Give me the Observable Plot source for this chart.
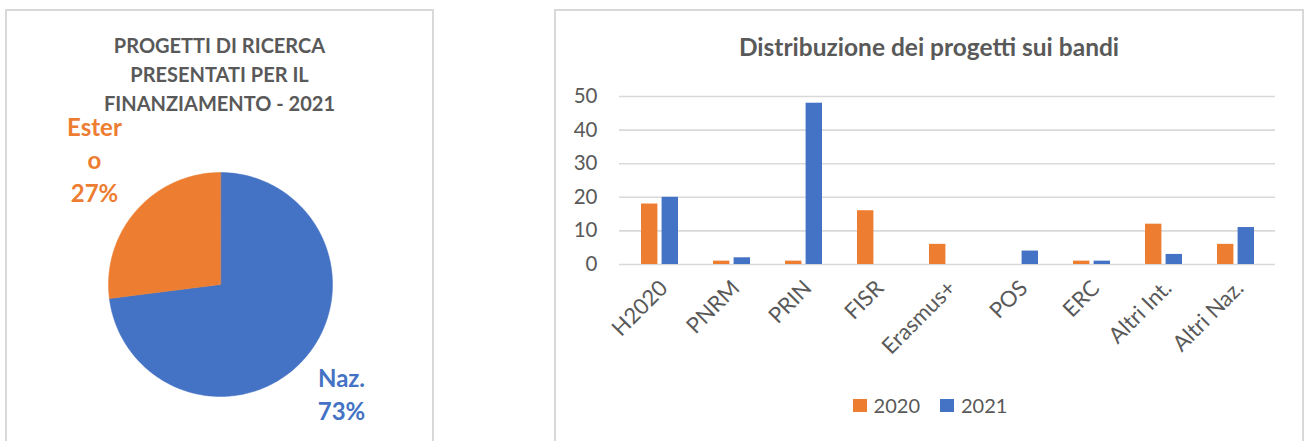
<!DOCTYPE html>
<html>
<head>
<meta charset="utf-8">
<script src="https://cdn.jsdelivr.net/npm/d3@7"></script>
<script src="https://cdn.jsdelivr.net/npm/@observablehq/plot@0.6"></script>
<style>
  html, body { margin: 0; padding: 0; background: #fff; }
  #root { position: relative; width: 1305px; height: 441px; overflow: hidden; font-family: Lato, "Open Sans", sans-serif; color: #595959; }
  .panel { position: absolute; top: 9px; height: 440px; border: 2px solid #d9d9d9; border-bottom: none; box-sizing: border-box; }
  .abs { position: absolute; }
  .ttl { position: absolute; text-align: center; font-weight: bold; color: #595959; }
  #legend { position: absolute; left: 555px; width: 750px; top: 393px; display: flex; justify-content: center; gap: 20px; font-size: 20px; }
  #legend span.item { display: flex; align-items: center; gap: 7px; }
  #legend span.sw { display: inline-block; width: 14px; height: 13px; }
</style>
</head>
<body>
<div id="root">
  <div class="panel" style="left:5px; width:429px;"></div>
  <div class="panel" style="left:554px; width:750px;"></div>
  <div class="ttl" id="pieTitle" style="left:5px; width:429px; top:31px; font-size:20px; line-height:29px;">PROGETTI DI RICERCA<br>PRESENTATI PER IL<br>FINANZIAMENTO - 2021</div>
  <div class="ttl" id="barTitle" style="left:555px; width:748px; top:32px; font-size:24.5px; line-height:30px;">Distribuzione dei progetti sui bandi</div>
  <div class="abs" id="pie" style="left:0; top:0;"></div>
  <div class="abs" id="bars" style="left:555px; top:0;"></div>
  <div id="legend"></div>
</div>
<script>
// ---- Data ----
const pieNames = ["Naz.", "Estero"];
const pieLabelText = ["Naz.\n73%", "Ester\no\n27%"];
const pieValues = [73, 27];
const pieColors = ["#4472C4", "#ED7D31"];

const categories = ["H2020", "PNRM", "PRIN", "FISR", "Erasmus+", "POS", "ERC", "Altri Int.", "Altri Naz."];
const values2020 = [18, 1, 1, 16, 6, 0, 1, 12, 6];
const values2021 = [20, 2, 48, 0, 0, 4, 1, 3, 11];
const years = ["2020", "2021"];
const yearColors = ["#ED7D31", "#4472C4"];
const yTicks = [0, 10, 20, 30, 40, 50];

// ---- Pie (angles clockwise from 12 o'clock) ----
const total = d3.sum(pieValues);
let acc = 0;
const slices = pieValues.map((v, i) => {
  const a0 = acc / total * 2 * Math.PI;
  acc += v;
  const a1 = acc / total * 2 * Math.PI;
  return {name: pieNames[i], a0, a1, mid: (a0 + a1) / 2};
});
const piePts = slices.flatMap(s => {
  const n = Math.max(2, Math.ceil((s.a1 - s.a0) / (Math.PI / 180)));
  const pts = [{slice: s.name, x: 0, y: 0}];
  for (let k = 0; k <= n; k++) {
    const a = s.a0 + (s.a1 - s.a0) * k / n;
    pts.push({slice: s.name, x: Math.sin(a), y: Math.cos(a)});
  }
  return pts;
});
const labelR = 1.5;
const pieLabels = slices.map((s, i) => ({name: s.name, text: pieLabelText[i], x: labelR * Math.sin(s.mid), y: labelR * Math.cos(s.mid), color: pieColors[i]}));

const pie = Plot.plot({
  width: 440, height: 441, margin: 0,
  x: {domain: [-1, 1], range: [108, 332], axis: null},
  y: {domain: [-1, 1], range: [396, 172], axis: null},
  style: {fontFamily: "Lato, 'Open Sans', sans-serif", background: "transparent", overflow: "visible"},
  marks: [
    ...slices.map((s, i) => Plot.line(piePts.filter(p => p.slice === s.name), {x: "x", y: "y", fill: pieColors[i], stroke: pieColors[i], strokeWidth: 0.5, curve: "linear-closed"})),
    Plot.text(pieLabels.filter(d => d.name === "Naz."), {x: "x", y: "y", text: "text", fill: "color", fontSize: 24, fontWeight: "bold", lineHeight: 1.38, dx: -5, dy: -3}),
    Plot.text(pieLabels.filter(d => d.name === "Estero"), {x: "x", y: "y", text: "text", fill: "color", fontSize: 24, fontWeight: "bold", lineHeight: 1.38, dy: -15})
  ]
});
document.getElementById("pie").appendChild(pie);

// ---- Bars ----
const rows = categories.flatMap((c, i) => [
  {cat: c, year: years[0], value: values2020[i]},
  {cat: c, year: years[1], value: values2021[i]}
]);

const bars = Plot.plot({
  width: 750, height: 441,
  marginLeft: 64, marginRight: 30, marginTop: 96, marginBottom: 177,
  x: {domain: categories, paddingInner: 0.49, paddingOuter: 0.245, label: null},
  y: {domain: [0, 50], label: null},
  color: {domain: years, range: yearColors},
  style: {fontFamily: "Lato, 'Open Sans', sans-serif", color: "#595959", background: "transparent", overflow: "visible"},
  marks: [
    Plot.gridY(yTicks, {stroke: "#d9d9d9", strokeOpacity: 1, strokeWidth: 1.6}),
    Plot.axisY(yTicks, {tickSize: 0, tickPadding: 22, fontSize: 20.5, label: null}),
    Plot.axisX({tickSize: 0, tickRotate: -45, tickPadding: 20, dx: 4, fontSize: 22, label: null}),
    Plot.barY(rows.filter(d => d.year === years[0]), {x: "cat", y: "value", fill: "year", insetRight: 20.6}),
    Plot.barY(rows.filter(d => d.year === years[1]), {x: "cat", y: "value", fill: "year", insetLeft: 20.6})
  ]
});
document.getElementById("bars").appendChild(bars);

// ---- Legend ----
const legend = d3.select("#legend");
years.forEach((y, i) => {
  const item = legend.append("span").attr("class", "item");
  item.append("span").attr("class", "sw").style("background", bars.scale("color").apply(y));
  item.append("span").text(y);
});
</script>
</body>
</html>
